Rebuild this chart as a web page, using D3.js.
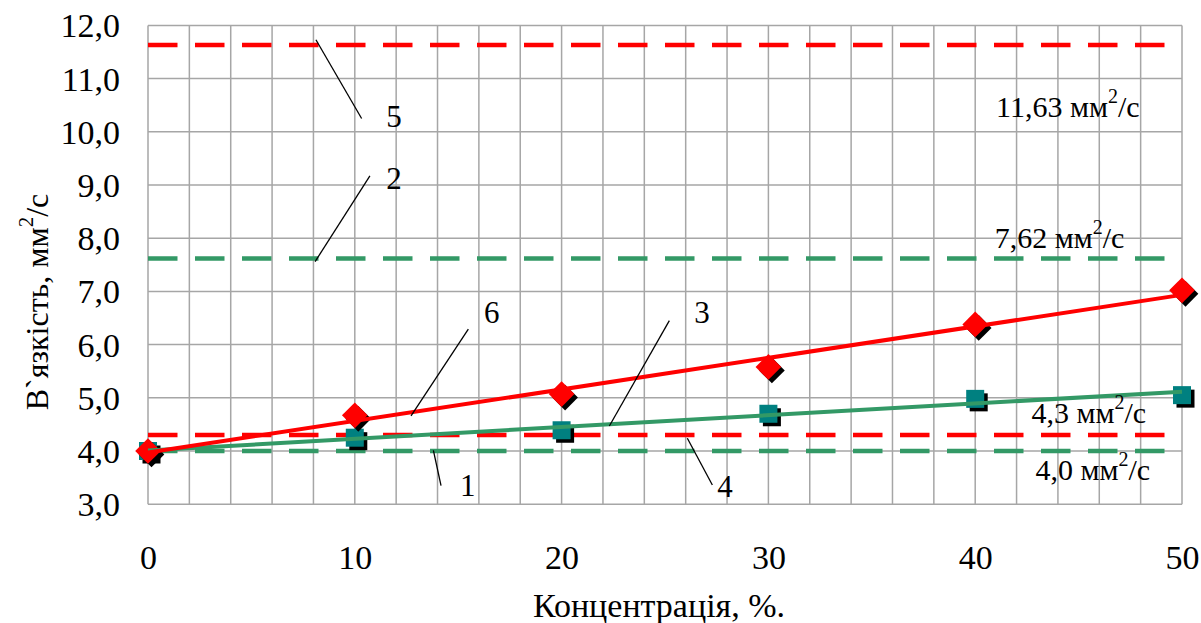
<!DOCTYPE html>
<html>
<head>
<meta charset="utf-8">
<script src="https://cdn.jsdelivr.net/npm/d3@7"></script>
<style>
  html, body { margin: 0; padding: 0; background: #fff; }
  svg { display: block; }
  svg text { font-family: "Liberation Serif", "Times New Roman", serif; }
</style>
</head>
<body>
<svg id="chart" width="1201" height="623"></svg>
<script>
// Concentration (%) on the x axis
const concentration = [0, 10, 20, 30, 40, 50];
// Measured viscosity, mm²/s
const viscosityDiamond = [4.0, 4.67, 5.07, 5.58, 6.38, 7.02];
const viscositySquare = [4.0, 4.25, 4.39, 4.70, 4.98, 5.05];
// Reference viscosity levels
const refLevels = [11.63, 7.62, 4.3, 4.0];
const refLabels = ["11,63", "7,62", "4,3", "4,0"];
const refColors = ["#ff0000", "#339966", "#ff0000", "#339966"];
// Axis ticks
const xTicks = [0, 10, 20, 30, 40, 50];
const yTicks = [3, 4, 5, 6, 7, 8, 9, 10, 11, 12];

const RED = "#ff0000", GREEN = "#339966", TEAL = "#008080", GRID = "#a6a6a6";

const svg = d3.select("#chart");
const plot = { left: 148, right: 1182, top: 25.4, bottom: 504.2 };

const x = d3.scaleLinear().domain([0, 50]).range([plot.left, plot.right]);
const y = d3.scaleLinear().domain([3, 12]).range([plot.bottom, plot.top]);
const comma = v => d3.format(".1f")(v).replace(".", ",");

// grid: minor verticals every 2 %, horizontals every 1 mm²/s
const grid = svg.append("g");
grid.selectAll("line.v").data(d3.range(0, 51, 2)).join("line")
  .attr("x1", d => x(d)).attr("x2", d => x(d))
  .attr("y1", plot.top).attr("y2", plot.bottom)
  .attr("stroke", GRID).attr("stroke-width", 1.5);
grid.selectAll("line.h").data(yTicks).join("line")
  .attr("x1", plot.left).attr("x2", plot.right)
  .attr("y1", d => y(d)).attr("y2", d => y(d))
  .attr("stroke", GRID).attr("stroke-width", 1.5);

// axes (labels only; the grid frames the plot)
const xAxis = d3.axisBottom(x).tickValues(xTicks).tickSize(0).tickPadding(0).tickFormat(d3.format("d"));
const gx = svg.append("g").attr("transform", `translate(0,${plot.bottom})`).call(xAxis);
gx.attr("font-family", null);
gx.select(".domain").remove();
gx.selectAll("text").attr("font-size", 34)
  .attr("fill", "#000").attr("dy", null).attr("y", 65);

const yAxis = d3.axisLeft(y).tickValues(yTicks).tickSize(0).tickPadding(0).tickFormat(comma);
const gy = svg.append("g").attr("transform", `translate(${plot.left},0)`).call(yAxis);
gy.attr("font-family", null);
gy.select(".domain").remove();
gy.selectAll("text").attr("font-size", 34)
  .attr("fill", "#000").attr("x", -28).attr("dy", "0.34em");

// reference levels (dashed)
svg.append("g").selectAll("line").data(refLevels).join("line")
  .attr("x1", plot.left).attr("x2", plot.right)
  .attr("y1", d => y(d)).attr("y2", d => y(d))
  .attr("stroke", (d, i) => refColors[i]).attr("stroke-width", 4.5)
  .attr("stroke-dasharray", "29.5,17.5");

// markers with drop shadow
const pts = concentration.map((c, i) => ({ c, sq: viscositySquare[i], dm: viscosityDiamond[i] }));
const sq = 18, sh = 3.5;
const gSq = svg.append("g");
gSq.selectAll("rect.s").data(pts).join("rect")
  .attr("x", d => x(d.c) - sq / 2 + sh).attr("y", d => y(d.sq) - sq / 2 + sh)
  .attr("width", sq).attr("height", sq).attr("fill", "#000");
gSq.selectAll("rect.m").data(pts).join("rect")
  .attr("x", d => x(d.c) - sq / 2).attr("y", d => y(d.sq) - sq / 2)
  .attr("width", sq).attr("height", sq).attr("fill", TEAL);

const dia = d3.symbol().type(d3.symbolDiamond2).size(420);
const gDm = svg.append("g");
gDm.selectAll("path.s").data(pts).join("path")
  .attr("d", dia).attr("transform", d => `translate(${x(d.c) + sh},${y(d.dm) + sh})`)
  .attr("fill", "#000");
gDm.selectAll("path.m").data(pts).join("path")
  .attr("d", dia).attr("transform", d => `translate(${x(d.c)},${y(d.dm)})`)
  .attr("fill", RED);

// linear least-squares trend lines
function linearFit(xs, ys) {
  const mx = d3.mean(xs), my = d3.mean(ys);
  const sxy = d3.sum(xs, (v, i) => (v - mx) * (ys[i] - my));
  const sxx = d3.sum(xs, v => (v - mx) * (v - mx));
  const b = sxy / sxx;
  return t => my + b * (t - mx);
}
const fitRed = linearFit(concentration, viscosityDiamond);
const fitGreen = linearFit(concentration, viscositySquare);
const ext = d3.extent(concentration);
[[fitGreen, GREEN], [fitRed, RED]].forEach(([f, col]) => {
  svg.append("line")
    .attr("x1", x(ext[0])).attr("y1", y(f(ext[0])))
    .attr("x2", x(ext[1])).attr("y2", y(f(ext[1])))
    .attr("stroke", col).attr("stroke-width", 4);
});

// reference value labels
const refLabelPos = [
  { cx: 44.48, by: 10.27 },
  { cx: 44.08, by: 7.81 },
  { cx: 45.49, by: 4.53 },
  { cx: 45.69, by: 3.46 }
];
refLabels.forEach((t, i) => {
  const p = refLabelPos[i];
  const txt = svg.append("text")
    .attr("x", x(p.cx)).attr("y", y(p.by))
    .attr("text-anchor", "middle").attr("font-size", 30).attr("fill", "#000");
  txt.append("tspan").text(t + " мм");
  txt.append("tspan").attr("font-size", 20).attr("dy", -14).text("2");
  txt.append("tspan").attr("dy", 14).text("/с");
});

// leader lines with curve numbers
const callouts = [
  { n: "5", from: [8.12, 11.73], to: [10.33, 10.25], at: [11.9, 10.09] },
  { n: "2", from: [10.73, 9.17], to: [8.08, 7.56], at: [11.9, 8.92] },
  { n: "6", from: [15.49, 6.29], to: [12.72, 4.66], at: [16.62, 6.41] },
  { n: "3", from: [25.21, 6.45], to: [22.31, 4.47], at: [26.79, 6.40] },
  { n: "1", from: [13.8, 4.01], to: [14.17, 3.35], at: [15.46, 3.15] },
  { n: "4", from: [26.08, 4.24], to: [27.29, 3.36], at: [27.9, 3.14] }
];
const gc = svg.append("g");
callouts.forEach(c => {
  gc.append("line")
    .attr("x1", x(c.from[0])).attr("y1", y(c.from[1]))
    .attr("x2", x(c.to[0])).attr("y2", y(c.to[1]))
    .attr("stroke", "#000").attr("stroke-width", 1.3);
  gc.append("text")
    .attr("x", x(c.at[0])).attr("y", y(c.at[1]))
    .attr("text-anchor", "middle").attr("font-size", 31).attr("fill", "#000")
    .text(c.n);
});

// axis titles
svg.append("text")
  .attr("x", 659).attr("y", 617)
  .attr("text-anchor", "middle").attr("font-size", 34).attr("fill", "#000")
  .text("Концентрація, %.");

const yt = svg.append("text")
  .attr("transform", "translate(48,302) rotate(-90)")
  .attr("text-anchor", "middle").attr("font-size", 32).attr("fill", "#000");
yt.append("tspan").text("В`язкість, мм");
yt.append("tspan").attr("font-size", 21).attr("dy", -15).text("2");
yt.append("tspan").attr("dy", 15).text("/с");
</script>
</body>
</html>
